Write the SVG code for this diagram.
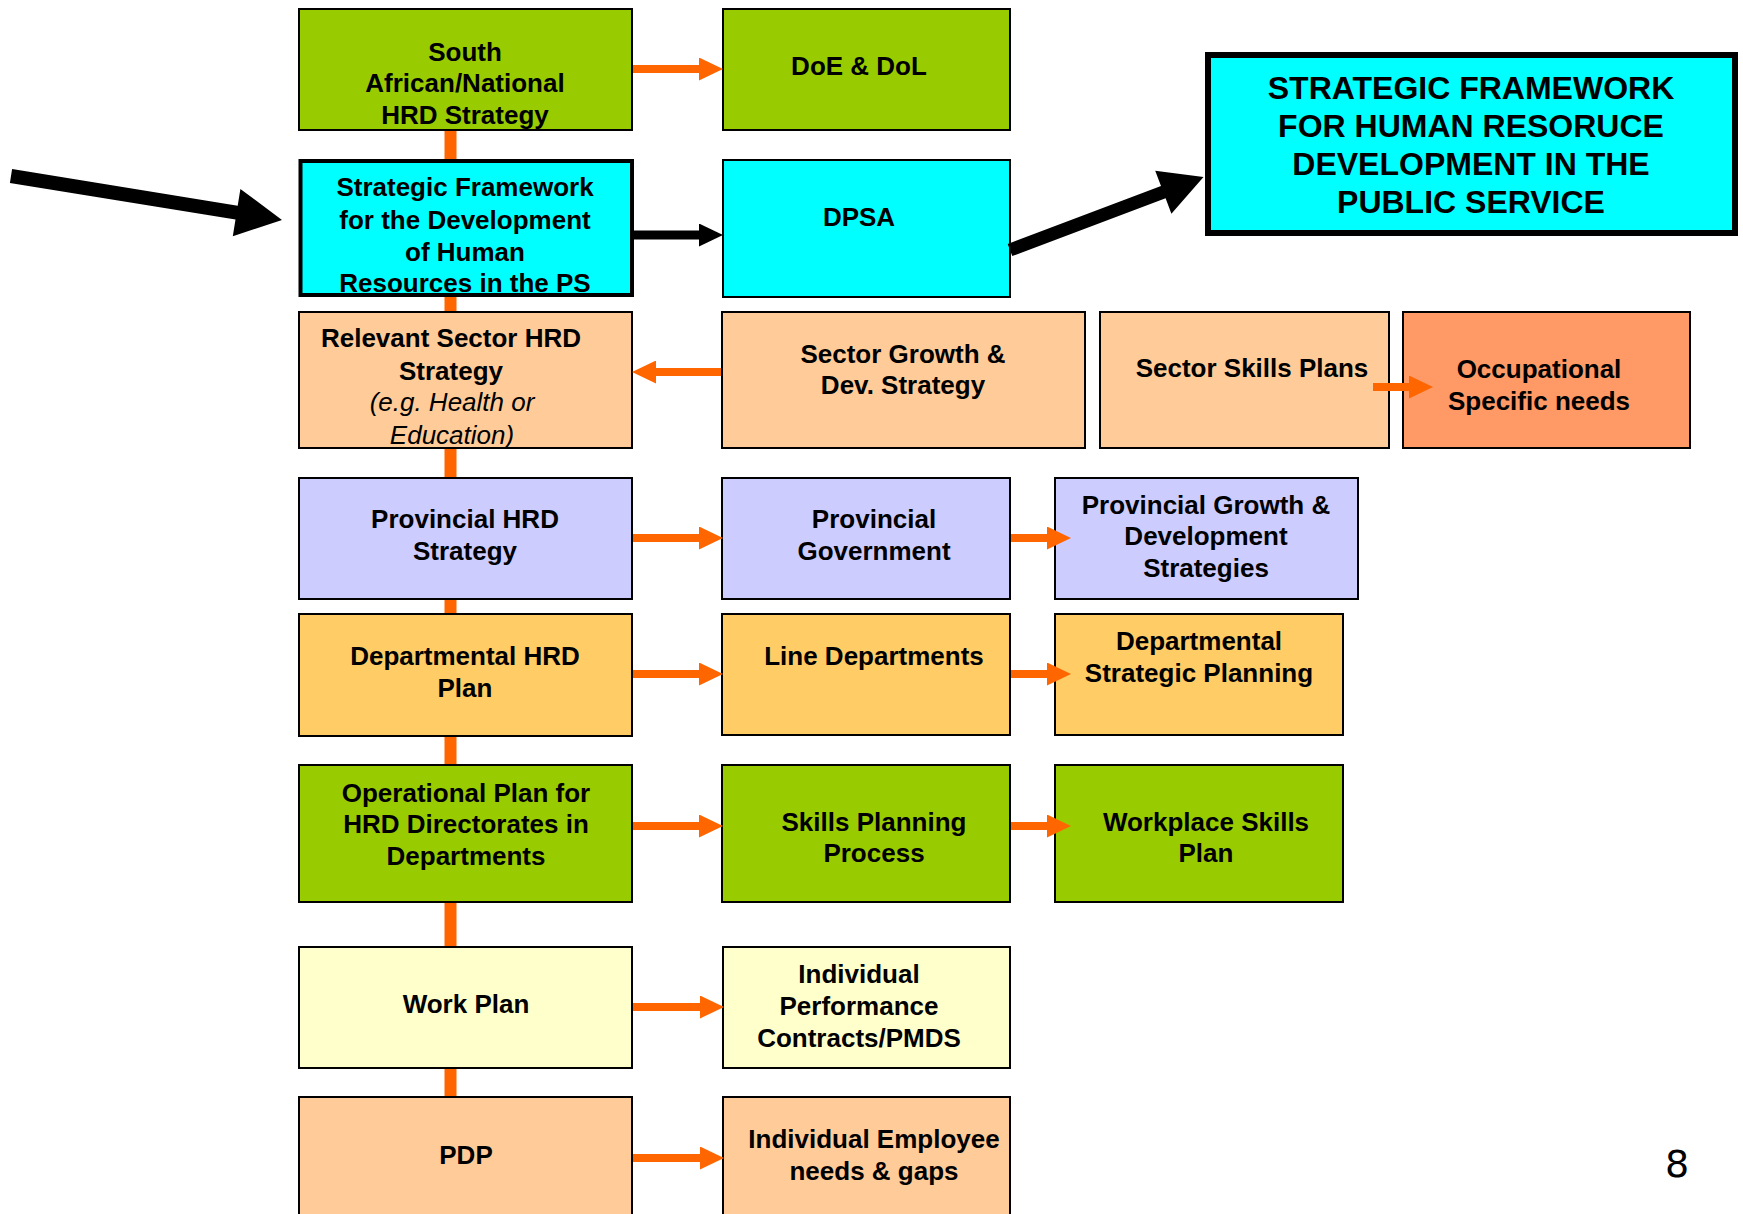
<svg xmlns="http://www.w3.org/2000/svg" width="1743" height="1214" viewBox="0 0 1743 1214">
<defs>
<style>
.b{stroke:#000;stroke-width:2}
.t{font-family:"Liberation Sans",Arial,sans-serif;font-weight:bold;font-size:26px;fill:#000;text-anchor:middle}
.i{font-style:italic;font-weight:normal}
.big{font-size:32px}
.g{fill:#99CC00}.c{fill:#00FFFF}.p{fill:#FFCC99}.o{fill:#FF9966}.l{fill:#CCCCFF}.y{fill:#FFCC66}.w{fill:#FFFFCC}
.oa{stroke:#FF6600;stroke-width:8;fill:none}
.ba{stroke:#000;stroke-width:9;fill:none}
</style>
<marker id="ho" viewBox="0 0 24 23" markerWidth="24" markerHeight="23" markerUnits="userSpaceOnUse" refX="0" refY="11.5" orient="auto"><path d="M0,0L24,11.5L0,23Z" fill="#FF6600"/></marker>
<marker id="hb" viewBox="0 0 24 23" markerWidth="24" markerHeight="23" markerUnits="userSpaceOnUse" refX="0" refY="11.5" orient="auto"><path d="M0,0L24,11.5L0,23Z" fill="#000"/></marker>
</defs>
<rect width="1743" height="1214" fill="#fff"/>
<g id="n-sa"><rect class="b g" x="299" y="9" width="333" height="121"/>
<text class="t" x="465" y="61">South</text><text class="t" x="465" y="92">African/National</text><text class="t" x="465" y="124">HRD Strategy</text></g>
<g id="n-doe"><rect class="b g" x="723" y="9" width="287" height="121"/>
<text class="t" x="859" y="75">DoE &amp; DoL</text></g>
<g id="n-sf"><rect class="c" x="300.5" y="161" width="331.5" height="134" stroke="#000" stroke-width="4"/>
<text class="t" x="465" y="196">Strategic Framework</text><text class="t" x="465" y="229">for the Development</text><text class="t" x="465" y="261">of Human</text><text class="t" x="465" y="292">Resources in the PS</text></g>
<g id="n-dpsa"><rect class="b c" x="723" y="160" width="287" height="137"/>
<text class="t" x="859" y="226">DPSA</text></g>
<g id="n-big"><rect class="c" x="1208" y="55" width="527" height="178" stroke="#000" stroke-width="6"/>
<text class="t big" x="1471" y="99">STRATEGIC FRAMEWORK</text><text class="t big" x="1471" y="137">FOR HUMAN RESORUCE</text><text class="t big" x="1471" y="175">DEVELOPMENT IN THE</text><text class="t big" x="1471" y="213">PUBLIC SERVICE</text></g>
<g id="n-rel"><rect class="b p" x="299" y="312" width="333" height="136"/>
<text class="t" x="451" y="347">Relevant Sector HRD</text><text class="t" x="451" y="380">Strategy</text><text class="t i" x="452" y="411">(e.g. Health or</text><text class="t i" x="452" y="444">Education)</text></g>
<g id="n-sg"><rect class="b p" x="722" y="312" width="363" height="136"/>
<text class="t" x="903" y="363">Sector Growth &amp;</text><text class="t" x="903" y="394">Dev. Strategy</text></g>
<g id="n-ssp"><rect class="b p" x="1100" y="312" width="289" height="136"/>
<text class="t" x="1252" y="377">Sector Skills Plans</text></g>
<g id="n-occ"><rect class="b o" x="1403" y="312" width="287" height="136"/>
<text class="t" x="1539" y="378">Occupational</text><text class="t" x="1539" y="410">Specific needs</text></g>
<g id="n-phrd"><rect class="b l" x="299" y="478" width="333" height="121"/>
<text class="t" x="465" y="528">Provincial HRD</text><text class="t" x="465" y="560">Strategy</text></g>
<g id="n-pgov"><rect class="b l" x="722" y="478" width="288" height="121"/>
<text class="t" x="874" y="528">Provincial</text><text class="t" x="874" y="560">Government</text></g>
<g id="n-pgds"><rect class="b l" x="1055" y="478" width="303" height="121"/>
<text class="t" x="1206" y="514">Provincial Growth &amp;</text><text class="t" x="1206" y="545">Development</text><text class="t" x="1206" y="577">Strategies</text></g>
<g id="n-dhrd"><rect class="b y" x="299" y="614" width="333" height="122"/>
<text class="t" x="465" y="665">Departmental HRD</text><text class="t" x="465" y="697">Plan</text></g>
<g id="n-line"><rect class="b y" x="722" y="614" width="288" height="121"/>
<text class="t" x="874" y="665">Line Departments</text></g>
<g id="n-dsp"><rect class="b y" x="1055" y="614" width="288" height="121"/>
<text class="t" x="1199" y="650">Departmental</text><text class="t" x="1199" y="682">Strategic Planning</text></g>
<g id="n-op"><rect class="b g" x="299" y="765" width="333" height="137"/>
<text class="t" x="466" y="802">Operational Plan for</text><text class="t" x="466" y="833">HRD Directorates in</text><text class="t" x="466" y="865">Departments</text></g>
<g id="n-spp"><rect class="b g" x="722" y="765" width="288" height="137"/>
<text class="t" x="874" y="831">Skills Planning</text><text class="t" x="874" y="862">Process</text></g>
<g id="n-wsp"><rect class="b g" x="1055" y="765" width="288" height="137"/>
<text class="t" x="1206" y="831">Workplace Skills</text><text class="t" x="1206" y="862">Plan</text></g>
<g id="n-wp"><rect class="b w" x="299" y="947" width="333" height="121"/>
<text class="t" x="466" y="1013">Work Plan</text></g>
<g id="n-ipc"><rect class="b w" x="723" y="947" width="287" height="121"/>
<text class="t" x="859" y="983">Individual</text><text class="t" x="859" y="1015">Performance</text><text class="t" x="859" y="1047">Contracts/PMDS</text></g>
<g id="n-pdp"><rect class="b p" x="299" y="1097" width="333" height="130"/>
<text class="t" x="466" y="1164">PDP</text></g>
<g id="n-ie"><rect class="b p" x="723" y="1097" width="287" height="130"/>
<text class="t" x="874" y="1148">Individual Employee</text><text class="t" x="874" y="1180">needs &amp; gaps</text></g>
<g id="connectors">
<path d="M450.5,131V159M450.5,297V311M450.5,449V477M450.5,600V613M450.5,737V764M450.5,903V946M450.5,1069V1096" stroke="#FF6600" stroke-width="12" fill="none"/>
<line class="oa" x1="633" y1="69" x2="699" y2="69" marker-end="url(#ho)"/>
<line class="ba" x1="634" y1="235" x2="699" y2="235" marker-end="url(#hb)"/>
<line class="oa" x1="721" y1="372" x2="656" y2="372" marker-end="url(#ho)"/>
<line class="oa" x1="1373" y1="387" x2="1409" y2="387" marker-end="url(#ho)"/>
<line class="oa" x1="633" y1="538" x2="699" y2="538" marker-end="url(#ho)"/>
<line class="oa" x1="1011" y1="538" x2="1047" y2="538" marker-end="url(#ho)"/>
<line class="oa" x1="633" y1="674" x2="699" y2="674" marker-end="url(#ho)"/>
<line class="oa" x1="1011" y1="674" x2="1047" y2="674" marker-end="url(#ho)"/>
<line class="oa" x1="633" y1="826" x2="699" y2="826" marker-end="url(#ho)"/>
<line class="oa" x1="1011" y1="826" x2="1047" y2="826" marker-end="url(#ho)"/>
<line class="oa" x1="633" y1="1007" x2="700" y2="1007" marker-end="url(#ho)"/>
<line class="oa" x1="633" y1="1158" x2="700" y2="1158" marker-end="url(#ho)"/>
<polygon points="12.1,169.1 237.7,205.7 240.4,188.9 282,220 232.8,236.3 235.5,219.5 9.9,182.9" fill="#000"/>
<polygon points="1007.7,243.9 1161.0,186.1 1155.2,170.7 1203.5,177 1171.4,213.7 1165.6,198.3 1012.3,256.1" fill="#000"/>
</g>
<text x="1677" y="1177" font-family="'DejaVu Sans',sans-serif" font-size="38" text-anchor="middle" fill="#000">8</text>
</svg>
